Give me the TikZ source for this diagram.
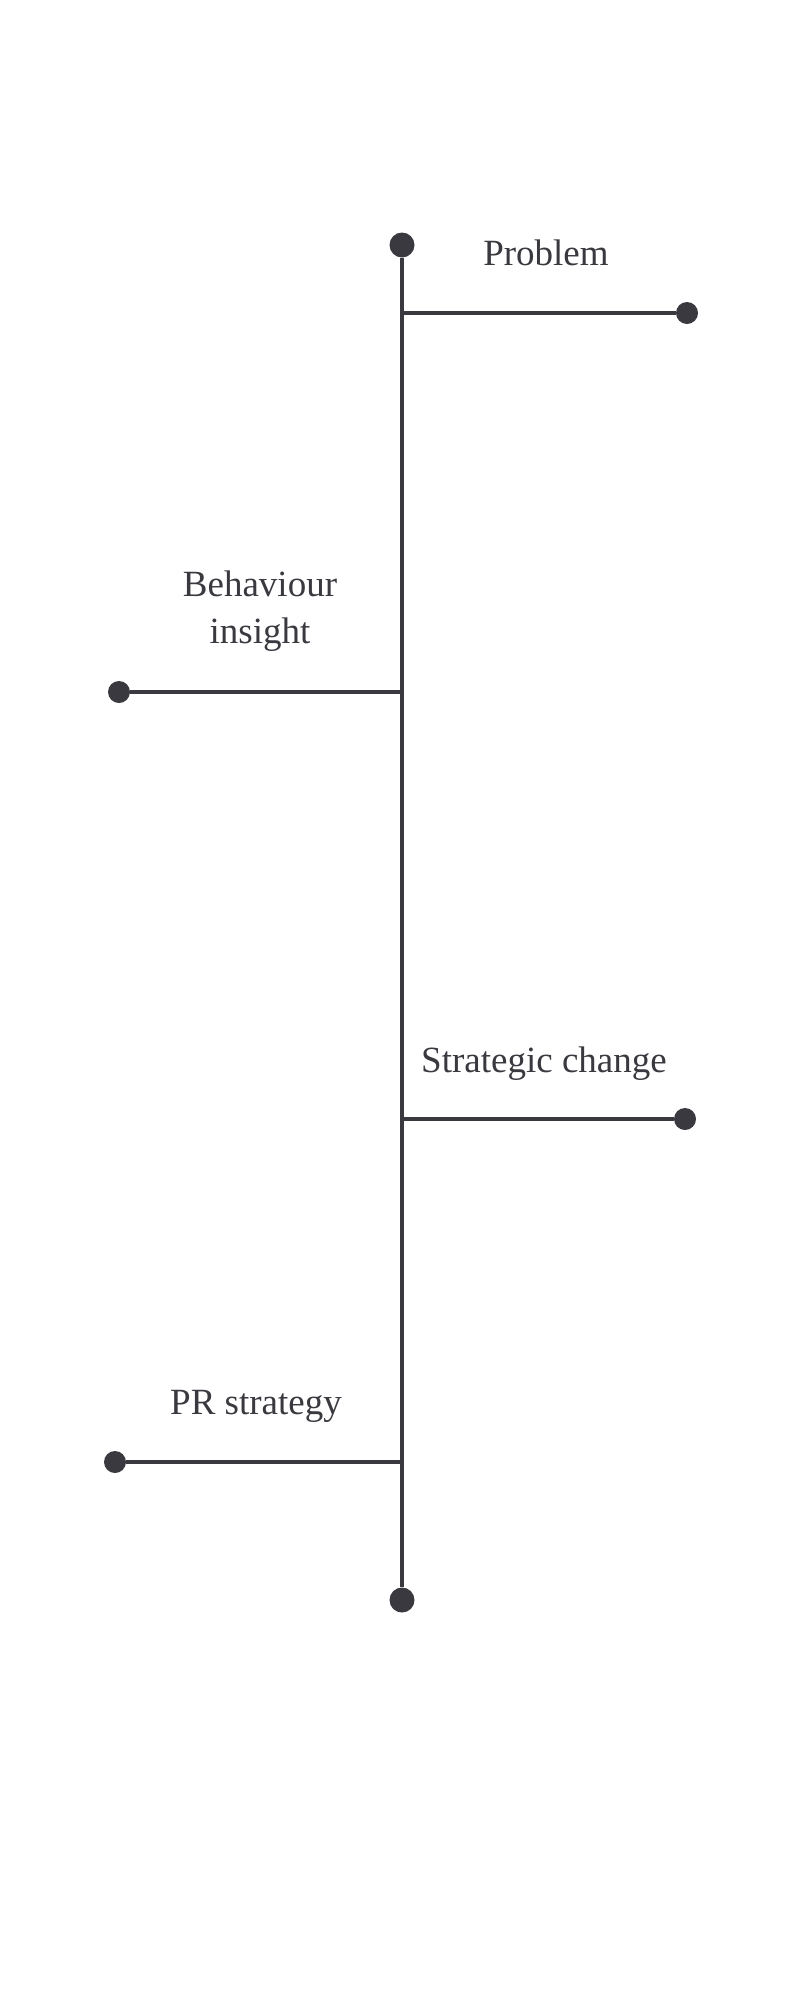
\documentclass[tikz,border=0pt]{standalone}
\usepackage{fontspec}
\setmainfont{Liberation Serif}
\definecolor{ink}{HTML}{3A393F}
\begin{document}
\begin{tikzpicture}[x=1pt,y=-1pt,
    every node/.style={text=ink,font=\fontsize{37}{47}\selectfont},
    bigdot/.style={circle,fill=ink,inner sep=0pt,minimum size=25pt},
    enddot/.style={circle,fill=ink,inner sep=0pt,minimum size=22pt},
    label/.style={anchor=base,align=center}]
    \useasboundingbox (0,0) rectangle (800,2000);
    \node[bigdot] (top) at (402,245) {};
    \node[bigdot] (bottom) at (402,1600) {};
    \coordinate (j1) at (402,313);
    \coordinate (j2) at (402,692);
    \coordinate (j3) at (402,1119);
    \coordinate (j4) at (402,1462);
    \node[enddot] (problem) at (687,313) {};
    \node[enddot] (insight) at (119,692) {};
    \node[enddot] (change) at (685,1119) {};
    \node[enddot] (pr) at (115,1462) {};
    \node[label] (t1) at (546,265) {Problem};
    \node[label] (t2) at (260,643) {Behaviour\\insight};
    \node[label] (t3) at (544,1072) {Strategic change};
    \node[label] (t4) at (256,1414) {PR strategy};
    \path[draw=ink,line width=4.5pt] (top) -- (bottom);
    \path[draw=ink,line width=3.2pt] (j1) -- (problem) (j2) -- (insight) (j3) -- (change) (j4) -- (pr);
\end{tikzpicture}
\end{document}
